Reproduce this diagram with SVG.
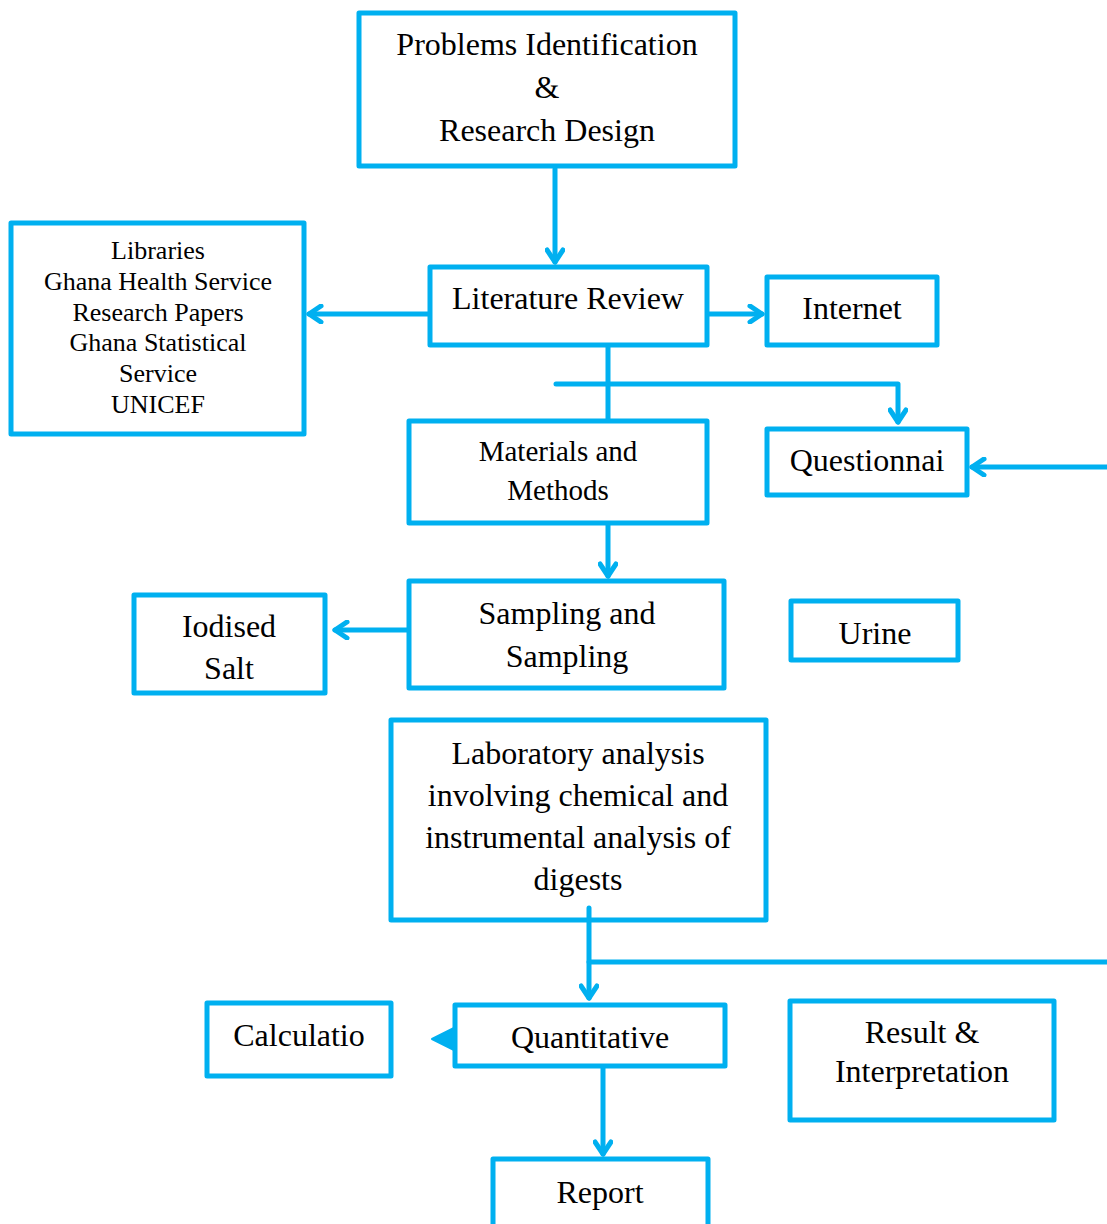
<svg xmlns="http://www.w3.org/2000/svg" width="1107" height="1224" viewBox="0 0 1107 1224">
<style>
.box{fill:#fff;stroke:#00B0F0;stroke-width:5;stroke-linejoin:round}
.ln{fill:none;stroke:#00B0F0;stroke-width:5;stroke-linecap:round;stroke-linejoin:round}
.t{font-family:"Liberation Serif","Times New Roman",serif;fill:#000;text-anchor:middle;font-size:32px}
.s26{font-size:26px}
.s29{font-size:29px}
</style>
<defs>
<marker id="ah" viewBox="0 0 20 20" refX="16" refY="10" markerWidth="20" markerHeight="20" markerUnits="userSpaceOnUse" orient="auto">
<path d="M4,2 L16,10 L4,18" fill="none" stroke="#00B0F0" stroke-width="5" stroke-linecap="round" stroke-linejoin="round"/>
</marker>
</defs>
<g id="n-problems"><rect class="box" x="359" y="13" width="376" height="153"/>
<text class="t" x="547" y="55">Problems Identification</text>
<text class="t" x="547" y="98">&amp;</text>
<text class="t" x="547" y="141">Research Design</text></g>
<g id="n-literature"><rect class="box" x="430" y="267" width="277" height="78"/>
<text class="t" x="568" y="309">Literature Review</text></g>
<g id="n-libraries"><rect class="box" x="11" y="223" width="293" height="211"/>
<text class="t s26" x="158" y="259">Libraries</text>
<text class="t s26" x="158" y="290">Ghana Health Service</text>
<text class="t s26" x="158" y="321">Research Papers</text>
<text class="t s26" x="158" y="351">Ghana Statistical</text>
<text class="t s26" x="158" y="382">Service</text>
<text class="t s26" x="158" y="413">UNICEF</text></g>
<g id="n-internet"><rect class="box" x="767" y="277" width="170" height="68"/>
<text class="t" x="852" y="319">Internet</text></g>
<g id="n-materials"><rect class="box" x="409" y="421" width="298" height="102"/>
<text class="t s29" x="558" y="461">Materials and</text>
<text class="t s29" x="558" y="500">Methods</text></g>
<g id="n-questionnai"><rect class="box" x="767" y="429" width="200" height="66"/>
<text class="t" x="867" y="471">Questionnai</text></g>
<g id="n-sampling"><rect class="box" x="409" y="581" width="315" height="107"/>
<text class="t" x="567" y="624">Sampling and</text>
<text class="t" x="567" y="667">Sampling</text></g>
<g id="n-iodised"><rect class="box" x="134" y="595" width="191" height="98"/>
<text class="t" x="229" y="637">Iodised</text>
<text class="t" x="229" y="679">Salt</text></g>
<g id="n-urine"><rect class="box" x="791" y="601" width="167" height="59"/>
<text class="t" x="875" y="644">Urine</text></g>
<g id="n-lab"><rect class="box" x="391" y="720" width="375" height="200"/>
<text class="t" x="578" y="764">Laboratory analysis</text>
<text class="t" x="578" y="806">involving chemical and</text>
<text class="t" x="578" y="848">instrumental analysis of</text>
<text class="t" x="578" y="890">digests</text></g>
<g id="n-calculatio"><rect class="box" x="207" y="1003" width="184" height="73"/>
<text class="t" x="299" y="1046">Calculatio</text></g>
<g id="n-quantitative"><rect class="box" x="455" y="1005" width="270" height="61"/>
<text class="t" x="590" y="1048">Quantitative</text></g>
<g id="n-result"><rect class="box" x="790" y="1001" width="264" height="119"/>
<text class="t" x="922" y="1043">Result &amp;</text>
<text class="t" x="922" y="1082">Interpretation</text></g>
<g id="n-report"><rect class="box" x="493" y="1159" width="215" height="80"/>
<text class="t" x="600" y="1203">Report</text></g>
<g id="connectors">
<line class="ln" x1="555" y1="169" x2="555" y2="262" marker-end="url(#ah)"/>
<line class="ln" x1="429" y1="314" x2="309" y2="314" marker-end="url(#ah)"/>
<line class="ln" x1="708" y1="314" x2="762" y2="314" marker-end="url(#ah)"/>
<line class="ln" x1="608" y1="346" x2="608" y2="419"/>
<polyline class="ln" points="556,384 898,384 898,422" marker-end="url(#ah)"/>
<line class="ln" x1="1107" y1="467" x2="972" y2="467" marker-end="url(#ah)"/>
<line class="ln" x1="608" y1="525" x2="608" y2="576" marker-end="url(#ah)"/>
<line class="ln" x1="407" y1="630" x2="335" y2="630" marker-end="url(#ah)"/>
<line class="ln" x1="589" y1="908" x2="589" y2="998" marker-end="url(#ah)"/>
<line class="ln" x1="589" y1="962" x2="1107" y2="962"/>
<line class="ln" x1="603" y1="1068" x2="603" y2="1154" marker-end="url(#ah)"/>
<path d="M432,1039 L454,1028 L454,1050 Z" fill="#00B0F0" stroke="#00B0F0" stroke-width="2" stroke-linejoin="round"/>
</g>
</svg>
